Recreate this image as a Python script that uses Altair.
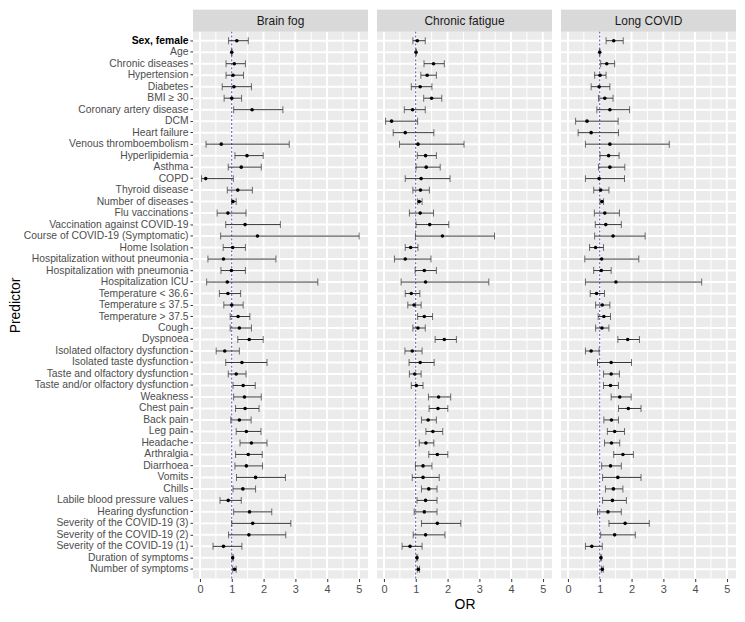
import altair as alt
import pandas as pd

predictors = [
    "Sex, female", "Age", "Chronic diseases", "Hypertension", "Diabetes", "BMI ≥ 30",
    "Coronary artery disease", "DCM", "Heart failure", "Venous thromboembolism",
    "Hyperlipidemia", "Asthma", "COPD", "Thyroid disease", "Number of diseases",
    "Flu vaccinations", "Vaccination against COVID-19", "Course of COVID-19 (Symptomatic)",
    "Home Isolation", "Hospitalization without pneumonia", "Hospitalization with  pneumonia",
    "Hospitalization ICU", "Temperature < 36.6", "Temperature ≤ 37.5", "Temperature > 37.5",
    "Cough", "Dyspnoea", "Isolated olfactory dysfunction", "Isolated taste dysfunction",
    "Taste and olfactory dysfunction", "Taste and/or olfactory dysfunction", "Weakness",
    "Chest pain", "Back pain", "Leg pain", "Headache", "Arthralgia", "Diarrhoea", "Vomits",
    "Chills", "Labile blood pressure values", "Hearing dysfunction",
    "Severity of the COVID-19 (3)", "Severity of the COVID-19 (2)", "Severity of the COVID-19 (1)",
    "Duration of symptoms", "Number of symptoms",
]
outcomes = ["Brain fog", "Chronic fatigue", "Long COVID"]

bf_or = [1.16, 1.00, 1.08, 1.04, 1.07, 1.00, 1.64, None, None, 0.67, 1.48, 1.30, 0.18, 1.19, 1.04,
         0.88, 1.42, 1.81, 1.03, 0.74, 0.99, 0.86, 0.88, 1.00, 1.20, 1.24, 1.55, 0.78, 1.32, 1.14,
         1.36, 1.40, 1.42, 1.24, 1.46, 1.62, 1.52, 1.46, 1.75, 1.35, 0.89, 1.56, 1.66, 1.54, 0.74,
         1.03, 1.09]
bf_lo = [0.90, 0.99, 0.82, 0.82, 0.70, 0.76, 1.06, None, None, 0.19, 1.10, 0.89, 0.05, 0.86, 1.00,
         0.54, 0.81, 0.65, 0.73, 0.25, 0.66, 0.21, 0.61, 0.75, 0.95, 0.95, 1.19, 0.51, 0.81, 0.89,
         1.04, 1.06, 1.12, 0.97, 1.14, 1.26, 1.12, 1.10, 1.15, 1.04, 0.63, 1.06, 1.00, 0.90, 0.41,
         1.01, 1.03]
bf_hi = [1.52, 1.01, 1.43, 1.37, 1.62, 1.31, 2.61, None, None, 2.81, 1.99, 1.93, 1.05, 1.65, 1.14,
         1.45, 2.53, 5.01, 1.43, 2.39, 1.43, 3.71, 1.28, 1.36, 1.57, 1.62, 1.99, 1.24, 2.11, 1.45,
         1.74, 1.93, 1.86, 1.61, 1.92, 2.11, 1.96, 1.97, 2.69, 1.75, 1.30, 2.26, 2.86, 2.70, 1.32,
         1.05, 1.14]

cf_or = [1.05, 1.01, 1.56, 1.36, 1.14, 1.50, 0.90, 0.24, 0.67, 1.07, 1.31, 1.33, 1.17, 1.15, 1.11,
         1.14, 1.44, 1.84, 0.84, 0.67, 1.27, 1.31, 0.86, 0.95, 1.27, 1.07, 1.90, 0.89, 1.14, 0.97,
         1.02, 1.72, 1.70, 1.39, 1.54, 1.32, 1.68, 1.23, 1.23, 1.41, 1.31, 1.27, 1.68, 1.31, 0.82,
         1.04, 1.08]
cf_lo = [0.91, 1.00, 1.26, 1.16, 0.86, 1.25, 0.64, 0.05, 0.29, 0.49, 1.05, 1.01, 0.67, 0.91, 1.06,
         0.80, 1.01, 0.99, 0.67, 0.33, 0.98, 0.54, 0.67, 0.75, 1.06, 0.91, 1.61, 0.66, 0.79, 0.80,
         0.86, 1.40, 1.42, 1.18, 1.32, 1.11, 1.41, 0.99, 0.89, 1.18, 1.04, 0.95, 1.18, 0.92, 0.57,
         1.02, 1.05]
cf_hi = [1.30, 1.02, 1.90, 1.65, 1.51, 1.82, 1.30, 1.06, 1.57, 2.52, 1.65, 1.77, 2.08, 1.43, 1.20,
         1.56, 2.04, 3.48, 1.07, 1.48, 1.65, 3.30, 1.13, 1.17, 1.53, 1.30, 2.28, 1.20, 1.58, 1.17,
         1.23, 2.10, 2.01, 1.65, 1.85, 1.57, 2.01, 1.51, 1.74, 1.67, 1.67, 1.67, 2.42, 1.92, 1.20,
         1.06, 1.12]

lc_or = [1.44, 1.00, 1.22, 1.01, 0.98, 1.16, 1.32, 0.60, 0.73, 1.32, 1.28, 1.32, 0.98, 1.03, 1.07,
         1.16, 1.19, 1.42, 0.87, 1.06, 1.05, 1.51, 0.90, 1.08, 1.13, 1.07, 1.88, 0.73, 1.36, 1.36,
         1.34, 1.63, 1.90, 1.37, 1.47, 1.37, 1.73, 1.34, 1.57, 1.43, 1.40, 1.26, 1.80, 1.47, 0.75,
         1.04, 1.08]
lc_lo = [1.20, 0.99, 1.03, 0.84, 0.73, 0.96, 0.91, 0.24, 0.32, 0.55, 1.01, 0.96, 0.55, 0.81, 1.01,
         0.83, 0.86, 0.84, 0.68, 0.53, 0.81, 0.55, 0.70, 0.87, 0.95, 0.87, 1.57, 0.55, 0.93, 1.12,
         1.12, 1.36, 1.59, 1.13, 1.24, 1.15, 1.44, 1.06, 1.09, 1.18, 1.09, 0.93, 1.29, 1.03, 0.55,
         1.02, 1.05]
lc_hi = [1.74, 1.01, 1.47, 1.20, 1.32, 1.42, 1.94, 1.58, 1.59, 3.19, 1.61, 1.79, 1.78, 1.29, 1.12,
         1.62, 1.68, 2.43, 1.12, 2.23, 1.36, 4.21, 1.15, 1.32, 1.34, 1.29, 2.25, 0.98, 2.00, 1.62,
         1.59, 1.99, 2.30, 1.59, 1.78, 1.63, 2.06, 1.68, 2.30, 1.73, 1.84, 1.68, 2.56, 2.12, 1.08,
         1.06, 1.11]

x_major = [0, 1, 2, 3, 4, 5]
x_minor = [0.5, 1.5, 2.5, 3.5, 4.5]

series = {
    "Brain fog": (bf_or, bf_lo, bf_hi),
    "Chronic fatigue": (cf_or, cf_lo, cf_hi),
    "Long COVID": (lc_or, lc_lo, lc_hi),
}

W, H, S = 176, 550, 22   # panel width, panel height, strip height
FONT = "Liberation Sans"
x_scale = alt.Scale(domain=[-0.22, 5.29], nice=False, zero=False)
y_scale = alt.Scale(domain=predictors, padding=0.6, range=[S, S + H])
minor_df = pd.DataFrame({"v": x_minor})
major_df = pd.DataFrame({"v": x_major})


def make_panel(name, first, x_title):
    ors, los, his = series[name]
    d = pd.DataFrame(dict(predictor=predictors, OR=ors, lo=los, hi=his, outcome=name))
    d_valid = d.dropna()
    strip_df = pd.DataFrame({"outcome": [name]})
    pred_df = pd.DataFrame({"predictor": predictors})

    x_axis = alt.Axis(
        values=x_major, format="d", grid=False,
        tickColor="#333333", tickSize=3, domain=False,
        labelColor="#4D4D4D", labelFontSize=11, labelFont=FONT, labelPadding=2,
        title=x_title, titleFontSize=14, titleFontWeight="normal", titleFont=FONT,
        titleColor="#000000", titlePadding=3,
    )
    if first:
        y_axis = alt.Axis(
            grid=False, domain=False,
            tickColor="#333333", tickSize=3, labelPadding=2,
            labelColor={"condition": {"test": "datum.value === 'Sex, female'", "value": "#000000"},
                        "value": "#4D4D4D"},
            labelFontWeight={"condition": {"test": "datum.value === 'Sex, female'", "value": "bold"},
                             "value": "normal"},
            labelFontSize=10.4, labelFont=FONT, labelLimit=400,
            title="Predictor", titleFontSize=14, titleFontWeight="normal", titleFont=FONT,
            titleColor="#000000", titlePadding=1, titleY=S + H / 2,
        )
    else:
        y_axis = alt.Axis(grid=False, domain=False, ticks=False, labels=False, title=None)
    y_enc = alt.Y("predictor:N", scale=y_scale, axis=y_axis)

    base = alt.Chart(d_valid)
    hgrid = alt.Chart(pred_df).mark_rule(color="#FFFFFF", strokeWidth=2, opacity=1).encode(
        y=y_enc, x=alt.value(0), x2=alt.value(W)
    )
    minor = alt.Chart(minor_df).mark_rule(color="#FFFFFF", strokeWidth=1, opacity=1).encode(
        x=alt.X("v:Q", scale=x_scale, axis=x_axis), y=alt.value(S), y2=alt.value(S + H)
    )
    major = alt.Chart(major_df).mark_rule(color="#FFFFFF", strokeWidth=2, opacity=1).encode(
        x=alt.X("v:Q", scale=x_scale, axis=x_axis), y=alt.value(S), y2=alt.value(S + H)
    )
    vline = alt.Chart(strip_df).mark_rule(color="#4B4BB4", strokeDash=[2, 2], strokeWidth=1).encode(
        x=alt.datum(1, scale=x_scale, axis=x_axis), y=alt.value(S), y2=alt.value(S + H)
    )
    bars = base.mark_rule(color="#333333", strokeWidth=1).encode(
        x=alt.X("lo:Q", scale=x_scale, axis=x_axis), x2="hi:Q", y=y_enc
    )
    cap_lo = base.mark_tick(color="#333333", thickness=1, size=7).encode(
        x=alt.X("lo:Q", scale=x_scale, axis=x_axis), y=y_enc
    )
    cap_hi = base.mark_tick(color="#333333", thickness=1, size=7).encode(
        x=alt.X("hi:Q", scale=x_scale, axis=x_axis), y=y_enc
    )
    pts = base.mark_circle(color="black", size=13, opacity=1).encode(
        x=alt.X("OR:Q", scale=x_scale, axis=x_axis), y=y_enc
    )
    strip = alt.Chart(strip_df).mark_rect(color="#D9D9D9").encode(
        x=alt.value(0), x2=alt.value(W), y=alt.value(0), y2=alt.value(S)
    )
    strip_text = alt.Chart(strip_df).mark_text(fontSize=12, color="#1A1A1A", font=FONT).encode(
        x=alt.value(W / 2), y=alt.value(S / 2), text="outcome:N"
    )
    return alt.layer(minor, major, hgrid, vline, bars, cap_lo, cap_hi, pts, strip,
                     strip_text).properties(width=W, height=S + H)


panels = [
    make_panel("Brain fog", True, None),
    make_panel("Chronic fatigue", False, "OR"),
    make_panel("Long COVID", False, None),
]

chart = alt.hconcat(*panels, spacing=7).properties(
    padding={"left": 0, "top": 0, "right": 0, "bottom": 0},
    background="white",
).configure_view(
    fill="#EBEBEB", strokeWidth=0
)

chart.save("out.html", embed_options={"renderer": "svg", "actions": False})
